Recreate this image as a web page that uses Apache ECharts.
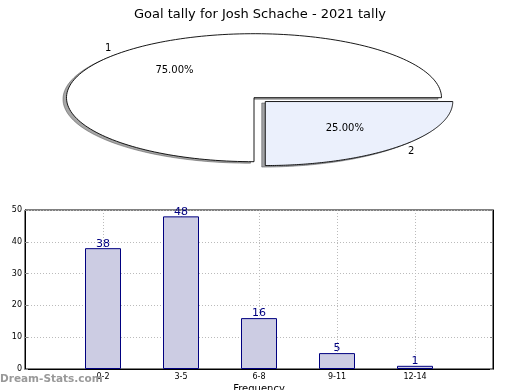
<!DOCTYPE html>
<html>
<head>
<meta charset="utf-8">
<script src="https://cdn.jsdelivr.net/npm/echarts@6/dist/echarts.min.js"></script>
<style>
html,body{margin:0;padding:0;background:#fff;}
#c{width:520px;height:390px;}
</style>
</head>
<body>
<div id="c"></div>
<script>
// ---- data ----
var titleText = 'Goal tally for Josh Schache - 2021 tally';
var pieNames = ['1', '2'];
var pieValues = [75, 25];
var barCategories = ['0-2', '3-5', '6-8', '9-11', '12-14'];
var barValues = [38, 48, 16, 5, 1];
var yTicks = [0, 10, 20, 30, 40, 50];

// ---- layout/style ----
var FONT = 'DejaVu Sans';
var pieCx = 254, pieCy = 97.7, pieRx = 187.5, pieRy = 64;
var explode = [0, 0.085];
var pieColors = ['#ffffff', '#ebf0fc'];
var shadowColors = ['rgba(77,77,77,0.5)', 'rgba(70,72,76,0.5)'];
var shadowDx = -3.5, shadowDy = 1.5;

var total = pieValues.reduce(function (a, b) { return a + b; }, 0);
var starts = [];
var acc = 0;
pieValues.forEach(function (v) { starts.push(acc); acc += v; });

function ellipsePt(cx, cy, f, deg) {
  var t = deg * Math.PI / 180;
  return [cx + f * pieRx * Math.cos(t), cy - f * pieRy * Math.sin(t)];
}

function renderSlice(params, api) {
  var i = params.dataIndex;
  var a0 = starts[i] / total * 360;
  var a1 = (starts[i] + pieValues[i]) / total * 360;
  var mid = (a0 + a1) / 2;
  var off = ellipsePt(0, 0, explode[i], mid);
  var cx = pieCx + off[0], cy = pieCy + off[1];
  var pts = [[cx, cy]];
  var spts = [[cx + shadowDx, cy + shadowDy]];
  var n = 160;
  for (var k = 0; k <= n; k++) {
    var p = ellipsePt(cx, cy, 1, a0 + (a1 - a0) * k / n);
    pts.push(p);
    spts.push([p[0] + shadowDx, p[1] + shadowDy]);
  }
  var pctPos = ellipsePt(cx, cy, 0.6, mid);
  var lblPos = ellipsePt(cx, cy, 1.1, mid);
  var pct = (pieValues[i] / total * 100).toFixed(2) + '%';
  return {
    type: 'group',
    children: [
      {
        type: 'polygon',
        shape: { points: spts },
        style: { fill: shadowColors[i], stroke: shadowColors[i], lineWidth: 1 }
      },
      {
        type: 'polygon',
        shape: { points: pts },
        style: { fill: pieColors[i], stroke: '#000', lineWidth: 0.9 }
      },
      {
        type: 'text',
        style: { text: pct, x: pctPos[0], y: pctPos[1], align: 'center', verticalAlign: 'middle',
          font: '10px "DejaVu Sans"', fill: '#000' }
      },
      {
        type: 'text',
        style: { text: pieNames[i], x: lblPos[0], y: lblPos[1], align: 'center', verticalAlign: 'middle',
          font: '10px "DejaVu Sans"', fill: '#000' }
      }
    ]
  };
}

var barData = barValues.map(function (v, i) { return [i + 1, v]; });

var chart = echarts.init(document.getElementById('c'), null, { renderer: 'canvas' });
chart.setOption({
  animation: false,
  backgroundColor: '#fff',
  textStyle: { fontFamily: FONT },
  title: {
    text: titleText, left: 'center', top: 3,
    textStyle: { fontFamily: FONT, fontSize: 13, fontWeight: 'normal', color: '#000' }
  },
  graphic: [{
    type: 'text', left: 0, top: 374, z: 100,
    style: { text: 'Dream-Stats.com', font: 'bold 10.5px "DejaVu Sans"', fill: '#999' }
  }],
  grid: {
    left: 25, right: 27, top: 210, bottom: 21,
    containLabel: false, outerBoundsMode: 'none',
    show: true, borderColor: '#000', borderWidth: 1, backgroundColor: 'transparent'
  },
  xAxis: {
    type: 'value', min: 0, max: barCategories.length + 1, interval: 1,
    name: 'Frequency', nameLocation: 'middle', nameGap: 15,
    nameTextStyle: { fontFamily: FONT, fontSize: 10, color: '#000' },
    axisLine: { show: true, lineStyle: { color: '#000' } },
    axisTick: { show: false },
    axisLabel: {
      fontFamily: FONT, fontSize: 8, color: '#000', margin: 4,
      formatter: function (v) { return barCategories[v - 1] || ''; }
    },
    splitLine: { show: true, lineStyle: { color: '#bbb', type: [1, 2], width: 1 } }
  },
  yAxis: [{
    type: 'value', min: yTicks[0], max: yTicks[yTicks.length - 1], interval: yTicks[1] - yTicks[0],
    name: 'Stat Intervals', nameLocation: 'middle', nameGap: 14,
    nameTextStyle: { fontFamily: FONT, fontSize: 10, color: '#000' },
    axisLine: { show: true, lineStyle: { color: '#000' } },
    axisTick: { show: true, inside: true, length: 3, lineStyle: { color: '#888' } },
    axisLabel: { fontFamily: FONT, fontSize: 8, color: '#000', margin: 3 },
    splitLine: { show: true, lineStyle: { color: '#bbb', type: [1, 2], width: 1 } }
  }, {
    type: 'value', position: 'right', min: yTicks[0], max: yTicks[yTicks.length - 1], interval: yTicks[1] - yTicks[0],
    axisLine: { show: true, lineStyle: { color: '#000' } },
    axisTick: { show: true, inside: true, length: 3, lineStyle: { color: '#888' } },
    axisLabel: { show: false },
    splitLine: { show: false }
  }],
  series: [{
    type: 'bar',
    data: barData,
    barWidth: 36,
    itemStyle: { color: '#ccccE3', borderColor: '#000080', borderWidth: 1 },
    label: { show: true, position: 'top', distance: -1, color: '#000080', fontFamily: FONT, fontSize: 11 }
  }, {
    type: 'custom',
    coordinateSystem: 'none',
    renderItem: renderSlice,
    data: pieValues,
    silent: true
  }]
});
</script>
</body>
</html>
